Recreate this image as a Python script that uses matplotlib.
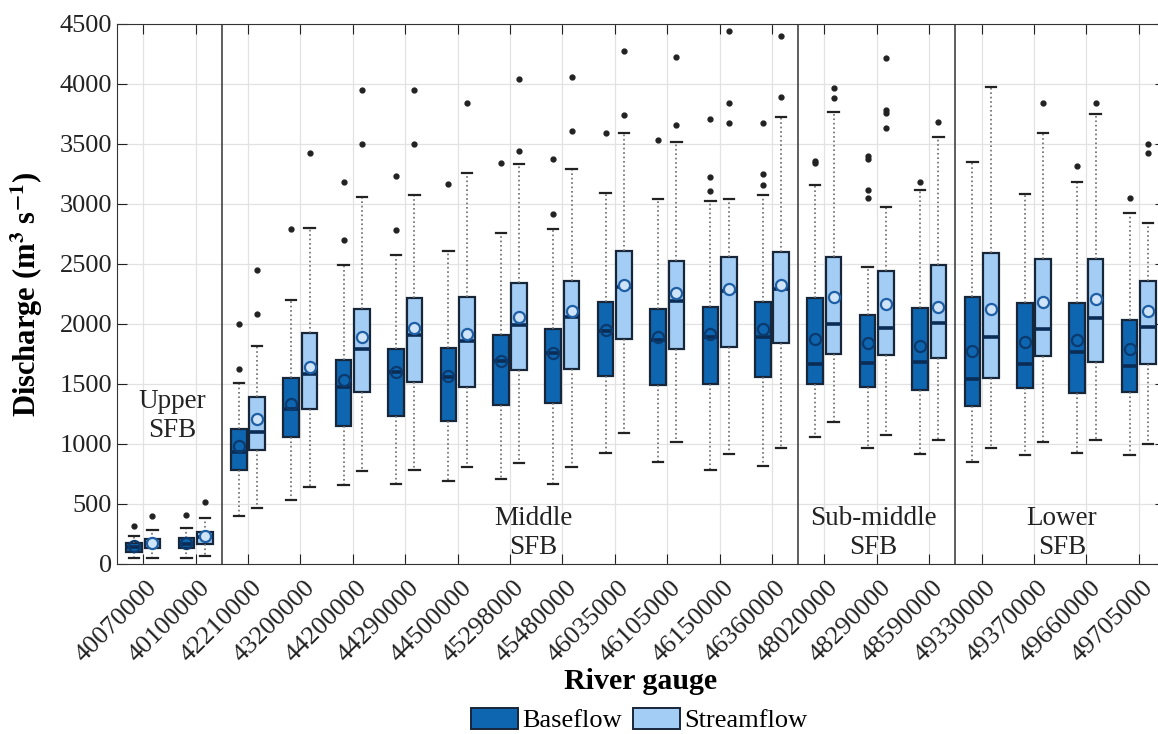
import matplotlib
matplotlib.use("Agg")
import matplotlib.pyplot as plt
import matplotlib.transforms as mtransforms
from matplotlib.patches import Patch

# River gauges and regions
gauges = ["40070000", "40100000", "42210000", "43200000", "44200000", "44290000",
          "44500000", "45298000", "45480000", "46035000", "46105000", "46150000",
          "46360000", "48020000", "48290000", "48590000", "49330000", "49370000",
          "49660000", "49705000"]
region_labels = ["Upper\nSFB", "Middle\nSFB", "Sub-middle\nSFB", "Lower\nSFB"]
region_x = [0.55, 7.44, 13.94, 17.53]
region_y = [1233, 258, 258, 258]
region_breaks = [1.5, 12.5, 15.5]

# Baseflow box statistics (m3/s)
bf_q1 = [100, 131, 783, 1056, 1150, 1233, 1194, 1325, 1339, 1567, 1492, 1500, 1556, 1500, 1478, 1450, 1313, 1469, 1422, 1437]
bf_med = [145, 170, 936, 1289, 1472, 1603, 1556, 1694, 1756, 1942, 1867, 1889, 1894, 1664, 1672, 1686, 1543, 1670, 1766, 1654]
bf_q3 = [178, 214, 1122, 1547, 1700, 1789, 1797, 1908, 1956, 2186, 2122, 2139, 2181, 2214, 2075, 2136, 2228, 2171, 2171, 2037]
bf_mean = [150, 175, 986, 1333, 1533, 1603, 1567, 1694, 1756, 1950, 1894, 1917, 1956, 1878, 1839, 1817, 1772, 1846, 1868, 1792]
bf_lo = [47, 50, 403, 533, 658, 667, 692, 708, 667, 925, 850, 783, 815, 1061, 964, 917, 851, 905, 921, 905]
bf_hi = [233, 303, 1506, 2200, 2492, 2572, 2611, 2756, 2789, 3089, 3039, 3028, 3072, 3161, 2478, 3117, 3354, 3083, 3185, 2924]
bf_out = [[320], [411], [1625, 2000], [2792], [2700, 3181], [2783, 3233], [3169], [3339],
          [2917, 3375], [3589], [3533], [3111, 3222, 3708], [3158, 3247, 3678], [3339, 3361],
          [3053, 3117, 3375, 3403], [3186], [], [], [3313], [3048]]

# Streamflow box statistics (m3/s)
sf_q1 = [131, 167, 950, 1289, 1436, 1519, 1478, 1617, 1622, 1878, 1792, 1806, 1839, 1750, 1742, 1714, 1552, 1734, 1686, 1670]
sf_med = [172, 228, 1103, 1581, 1789, 1906, 1858, 1992, 2056, 2306, 2194, 2278, 2289, 2000, 1969, 2006, 1893, 1957, 2053, 1973]
sf_q3 = [206, 269, 1389, 1922, 2122, 2214, 2228, 2339, 2358, 2608, 2525, 2556, 2603, 2561, 2444, 2492, 2595, 2538, 2538, 2356]
sf_mean = [178, 235, 1206, 1639, 1889, 1964, 1914, 2061, 2108, 2322, 2256, 2289, 2325, 2222, 2167, 2144, 2123, 2187, 2212, 2107]
sf_lo = [50, 70, 464, 642, 775, 783, 808, 842, 808, 1089, 1019, 917, 967, 1186, 1075, 1033, 969, 1017, 1033, 1001]
sf_hi = [283, 386, 1817, 2800, 3056, 3075, 3256, 3331, 3292, 3589, 3514, 3039, 3728, 3764, 2978, 3556, 3973, 3593, 3749, 2844]
sf_out = [[400], [514], [2086, 2450], [3422], [3500, 3950], [3500, 3950], [3840], [3444, 4042],
          [3611, 4056], [3742, 4275], [3658, 4222], [3678, 3844, 4440], [3889, 4400], [3881, 3969],
          [3631, 3760, 3780, 4214], [3681], [], [3839], [3845], [3424, 3504]]

plt.rcParams["font.family"] = ["Liberation Serif", "DejaVu Serif"]
plt.rcParams["mathtext.fontset"] = "stix"


def make_stats(q1, med, q3, mean, lo, hi, out):
    return [{"q1": a, "med": b, "q3": c, "mean": d, "whislo": e, "whishi": f, "fliers": g}
            for a, b, c, d, e, f, g in zip(q1, med, q3, mean, lo, hi, out)]


bf_color = "#0f66b0"
sf_color = "#a3cdf4"
edge = "#18263a"

fig = plt.figure(figsize=(11.58, 7.34), dpi=100)
ax = fig.add_axes([117 / 1158, 170 / 734, (1165 - 117) / 1158, 540 / 734])

xs = list(range(len(gauges)))
off = 0.175

for stats, color, mean_fc, mean_ec, sign in [
    (make_stats(bf_q1, bf_med, bf_q3, bf_mean, bf_lo, bf_hi, bf_out), bf_color, "none", "#0b3a6e", -1),
    (make_stats(sf_q1, sf_med, sf_q3, sf_mean, sf_lo, sf_hi, sf_out), sf_color, "#cfe4f8", "#1f5fa5", 1),
]:
    ax.bxp(stats, positions=[x + sign * off for x in xs], widths=0.3,
           patch_artist=True, showmeans=True, capwidths=0.2,
           boxprops=dict(facecolor=color, edgecolor=edge, linewidth=1.6),
           whiskerprops=dict(color="#6a6a6a", linestyle=":", linewidth=1.2),
           capprops=dict(color="#222222", linewidth=1.6),
           medianprops=dict(color="#0b2c55", linewidth=2.6),
           meanprops=dict(marker="o", markerfacecolor=mean_fc, markeredgecolor=mean_ec,
                          markeredgewidth=1.6, markersize=8),
           flierprops=dict(marker="o", markerfacecolor="#222222", markeredgecolor="#222222",
                           markersize=3.5))

for xb in region_breaks:
    ax.axvline(xb, color="#333333", linewidth=1.1, zorder=1)

# region names
for label, xc, yc in zip(region_labels, region_x, region_y):
    ax.text(xc, yc, label, ha="center", va="center", fontsize=19.5, color="#222222",
            linespacing=1.2)

ax.set_xlim(-0.5, 19.5)
ax.set_ylim(0, 4500)
ax.set_yticks(range(0, 4501, 500))
ax.set_xticks(xs)
ax.set_xticklabels(gauges, rotation=45, ha="right", va="top", rotation_mode="anchor")
ax.tick_params(axis="both", direction="in", length=7, top=True, right=True,
               labelsize=19, colors="#222222")
ax.tick_params(axis="x", pad=9)
shift = mtransforms.ScaledTranslation(3 / 100, 0, fig.dpi_scale_trans)
for lab in ax.get_xticklabels():
    lab.set_transform(lab.get_transform() + shift)
ax.grid(True, color="#e2e2e2", linewidth=0.9)
ax.set_axisbelow(True)
for s in ax.spines.values():
    s.set_color("#333333")

ax.set_ylabel(r"Discharge (m$^{\mathbf{3}}$ s$^{\mathbf{-1}}$)", fontsize=22,
              fontweight="bold")
ax.yaxis.set_label_coords(-0.069, 0.5)
ax.set_xlabel("River gauge", fontsize=21.5, fontweight="bold")
ax.xaxis.set_label_coords(0.5, -0.193)

handles = [Patch(facecolor=bf_color, edgecolor=edge, linewidth=1.4),
           Patch(facecolor=sf_color, edgecolor=edge, linewidth=1.4)]
fig.legend(handles, ["Baseflow", "Streamflow"], loc="center",
           bbox_to_anchor=(639 / 1158, 1 - 720 / 734), ncol=2, frameon=False,
           fontsize=19, handlelength=1.8, handleheight=0.87,
           columnspacing=0.4, handletextpad=0.15)

fig.savefig("out.png", dpi=100)
